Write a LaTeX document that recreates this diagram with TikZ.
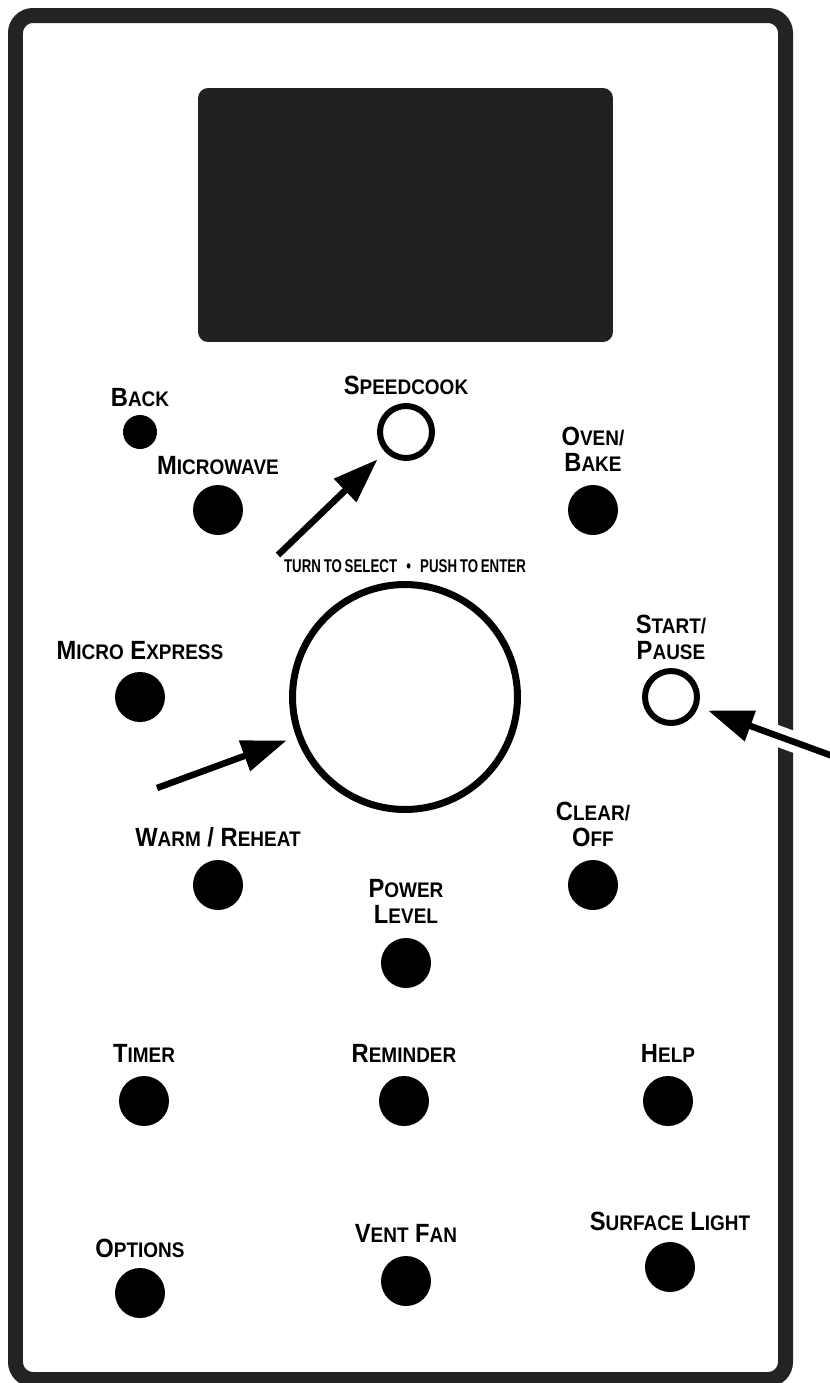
\documentclass[tikz,border=0pt]{standalone}
\usepackage{fontspec}
\usepackage{tikz}
\usetikzlibrary{arrows.meta,positioning}
\newfontfamily\panelfont[FakeStretch=0.9]{Liberation Sans}
\newfontfamily\hintfont[FakeStretch=0.72]{Liberation Sans}
\definecolor{framegray}{HTML}{232323}
\definecolor{screengray}{HTML}{212121}
\newcommand{\capword}[2]{{\fontsize{15}{14.8}\selectfont #1}{\fontsize{12}{14.8}\selectfont #2}}
\tikzset{
  keybtn/.style={circle,fill=black,minimum size=1cm,inner sep=0pt,outer sep=0pt},
  smallbtn/.style={keybtn,minimum size=0.68cm},
  ringbtn/.style={circle,draw=black,fill=white,line width=0.12cm,minimum size=1.04cm,inner sep=0pt,outer sep=0pt},
  dialknob/.style={circle,draw=black,line width=0.14cm,minimum size=4.5cm,inner sep=0pt,outer sep=0pt},
  screen/.style={rounded corners=0.2cm,fill=screengray,minimum width=8.3cm,minimum height=5.08cm,inner sep=0pt},
  keylabel/.style={font=\panelfont\bfseries\fontsize{15}{14.8}\selectfont,align=center,inner sep=0pt},
  hint/.style={font=\hintfont\bfseries\fontsize{10.5}{12}\selectfont,inner sep=0pt},
  pointer/.style={-{Triangle[length=0.9cm,width=0.62cm]},line width=0.13cm,shorten >=0.27cm},
  halo/.style={white,line width=0.42cm}
}

\begin{document}
\begin{tikzpicture}[x=0.02cm,y=-0.02cm,node distance=0.26cm]
  \useasboundingbox[fill=white] (0,0) rectangle (829,1383);
  % Panel and display
  \draw[framegray,line width=0.3cm,rounded corners=0.35cm] (15.5,15.5) rectangle (785.5,1379.5);
  \node[screen] (display) at (405.5,215) {};

  % Keys
  \node[smallbtn] (back) at (140,432) {};
  \node[ringbtn] (speedcook) at (406,432) {};
  \node[keybtn] (microwave) at (218,510) {};
  \node[keybtn] (ovenbake) at (593,510) {};
  \node[keybtn] (microexpress) at (140,697) {};
  \node[dialknob] (dial) at (405,697) {};
  \node[ringbtn] (startpause) at (671,697) {};
  \node[keybtn] (warmreheat) at (218,885) {};
  \node[keybtn] (clearoff) at (593,885) {};
  \node[keybtn] (powerlevel) at (406,963) {};
  \node[keybtn] (timer) at (144,1101) {};
  \node[keybtn] (reminder) at (404,1101) {};
  \node[keybtn] (help) at (668,1101) {};
  \node[keybtn] (options) at (140,1293) {};
  \node[keybtn] (ventfan) at (406,1281) {};
  \node[keybtn] (surfacelight) at (670,1267) {};

  % Key names
  \node[keylabel,above=0.16cm of back] (backtxt) {\capword{B}{ACK}};
  \node[keylabel,above=0.22cm of speedcook] (speedcooktxt) {\capword{S}{PEEDCOOK}};
  \node[keylabel,above=0.2cm of microwave] (microwavetxt) {\capword{M}{ICROWAVE}};
  \node[keylabel,above=of ovenbake] (ovenbaketxt) {\capword{O}{VEN/}\\\capword{B}{AKE}};
  \node[keylabel,above=0.24cm of microexpress] (microexpresstxt) {\capword{M}{ICRO} \capword{E}{XPRESS}};
  \node[keylabel,above=0.22cm of startpause] (startpausetxt) {\capword{S}{TART/}\\\capword{P}{AUSE}};
  \node[keylabel,above=of warmreheat] (warmreheattxt) {\capword{W}{ARM} / \capword{R}{EHEAT}};
  \node[keylabel,above=of clearoff] (clearofftxt) {\capword{C}{LEAR/}\\\capword{O}{FF}};
  \node[keylabel,above=0.28cm of powerlevel] (powerleveltxt) {\capword{P}{OWER}\\\capword{L}{EVEL}};
  \node[keylabel,above=of timer] (timertxt) {\capword{T}{IMER}};
  \node[keylabel,above=of reminder] (remindertxt) {\capword{R}{EMINDER}};
  \node[keylabel,above=of help] (helptxt) {\capword{H}{ELP}};
  \node[keylabel,above=0.2cm of options] (optionstxt) {\capword{O}{PTIONS}};
  \node[keylabel,above=of ventfan] (ventfantxt) {\capword{V}{ENT} \capword{F}{AN}};
  \node[keylabel,above=0.22cm of surfacelight] (surfacelighttxt) {\capword{S}{URFACE} \capword{L}{IGHT}};
  \node[hint,above=0.23cm of dial] (dialtxt) {TURN\hspace{0.15em}TO\hspace{0.15em}SELECT\hspace{0.5em}•\hspace{0.5em}PUSH\hspace{0.15em}TO\hspace{0.15em}ENTER};

  % Pointers
  \coordinate (speedtail) at (278,555);
  \coordinate (dialtail) at (157,788);
  \coordinate (starttail) at (860,766);
  \draw[pointer] (speedtail) -- (speedcook);
  \draw[pointer] (dialtail) -- (dial);
  \draw[halo,shorten >=1.5cm] (starttail) -- (startpause);
  \draw[pointer] (starttail) -- (startpause);
\end{tikzpicture}
\end{document}
